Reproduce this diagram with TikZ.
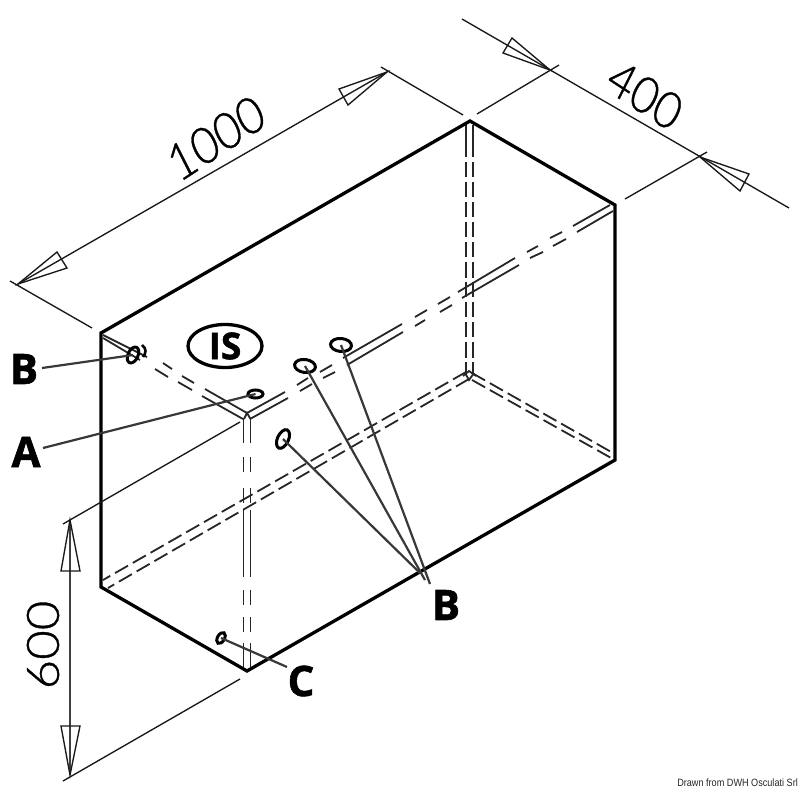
\documentclass[tikz,border=0pt]{standalone}
\usepackage{fontspec}
\setmainfont{Open Sans}
\newfontfamily\dimfont{Lato Light}[FakeBold=0.7]
\newfontfamily\boldlab{Open Sans}[UprightFont=* Bold,FakeBold=1.4]
\newfontfamily\creditfont{Liberation Sans}
\usetikzlibrary{shapes.geometric}
\tikzset{
  thickedge/.style={line width=3.3pt,line join=miter,black},
  thinline/.style={line width=1.35pt,black!90},
  hiddenline/.style={line width=1.8pt,black!85},
  hiddendash/.style={line width=1.8pt,black!85,dash pattern=on 15pt off 5.5pt},
  leader/.style={line width=2.2pt,black!78},
  arrowopen/.style={line width=1.35pt,black!90,line join=miter},
  hole/.style={ellipse,draw=black,line width=3pt,inner sep=0pt,outer sep=0pt},
  lab/.style={font=\boldlab\fontsize{42}{42}\selectfont,inner sep=0pt,black},
  dimtext/.style={font=\dimfont\fontsize{51}{51}\selectfont,inner sep=0pt,xscale=.88,transform shape,black}
}
\begin{document}
\begin{tikzpicture}[x=1pt,y=-1pt]
\useasboundingbox (0,0) rectangle (800,800);
\fill[white] (0,0) rectangle (800,800);

% box corners
\coordinate (tl) at (101,333);
\coordinate (tb) at (470,121);
\coordinate (tr) at (615,205);
\coordinate (br) at (615,460);
\coordinate (bf) at (247,671);
\coordinate (bl) at (101,587);

% hidden edges: top left-front edge
\foreach \xa/\ya/\xb/\yb in {
  103/335/147/357, 163/363/172/369, 182/376/194/383, 205/389/247/413,
  103/338/140/360, 155/369/168/377, 178/382/192/390, 202/396/243/419,
  % top long edge
  247/413/285/392, 297/385/308/378, 320/372/332/365, 343/358/402/324,
  415/317/427/310, 438/304/450/297, 458/292/515/258, 527/252/538/246,
  550/238/562/232, 573/226/610/205,
  250/419/288/398, 300/391/312/384, 323/378/335/372, 347/365/403/332,
  415/326/425/320, 440/312/452/305, 462/298/519/265, 530/258/543/252,
  553/246/566/239, 577/232/613/211,
  % front vertical
  243.5/419/243.5/443, 243.5/457/243.5/472, 243.5/488/243.5/503, 243.5/510/243.5/577,
  243.5/590/243.5/605, 243.5/617/243.5/632, 243.5/643/243.5/670,
  250.5/419/250.5/443, 250.5/457/250.5/472, 250.5/488/250.5/503, 250.5/510/250.5/577,
  250.5/590/250.5/605, 250.5/617/250.5/632, 250.5/643/250.5/668,
  % back vertical
  466/125/466/157, 466/162/466/177, 466/182/466/197, 466/202/466/217, 466/222/466/237,
  466/242/466/257, 466/262/466/278, 466/282/466/297, 466/302/466/317, 466/322/466/337,
  466/342/466/358, 466/362/466/374,
  473/125/473/157, 473/162/473/177, 473/182/473/197, 473/202/473/217, 473/222/473/237,
  473/242/473/257, 473/262/473/278, 473/282/473/297, 473/302/473/317, 473/322/473/337,
  473/342/473/358, 473/362/473/374
} \draw[hiddenline] (\xa,\ya) -- (\xb,\yb);

% hidden bottom edges
\draw[hiddendash] (466,372) -- (103,580);
\draw[hiddendash] (469,379) -- (108,588);
\draw[hiddendash] (472,373) -- (613,453);
\draw[hiddendash] (472,380) -- (613,459);

% small corner marks
\draw[hiddenline] (244,419) -- (247,413) -- (250.5,419);
\draw[hiddenline] (465,373) -- (469,380) -- (474,373);
\draw[hiddenline] (463,376) -- (469,371) -- (476,376);

% outline
\draw[thickedge] (tl) -- (tb) -- (tr) -- (br) -- (bf) -- (bl) -- cycle;

% dimension 1000
\coordinate (kA) at (18,284);
\coordinate (kB) at (387,72);
\draw[thinline] (kA) -- (kB);
\draw[arrowopen] (kA) -- (57,252) -- (67,268) -- cycle;
\draw[arrowopen] (kB) -- (339,89) -- (348,105) -- cycle;
\draw[thinline] (10,281) -- (92,328);
\draw[thinline] (381,67) -- (463,115);
\node[dimtext,rotate=30] (dim1000) at (216,138) {1000};

% dimension 400
\coordinate (fA) at (550,70);
\coordinate (fB) at (700,157);
\coordinate (fC) at (462,19);
\coordinate (fD) at (789,208);
\draw[thinline] (fC) -- (fD);
\draw[arrowopen] (fA) -- (512,38) -- (503,53) -- cycle;
\draw[arrowopen] (fB) -- (749,174) -- (740,191) -- cycle;
\draw[thinline] (477,114) -- (559,65);
\draw[thinline] (625,199) -- (707,152);
\node[dimtext,rotate=-30] (dim400) at (645,95) {400};

% dimension 600
\coordinate (sA) at (70,520);
\coordinate (sB) at (70,775);
\draw[thinline,black!75] (sA) -- (sB);
\draw[arrowopen] (sA) -- (61,571) -- (80,571) -- cycle;
\draw[arrowopen] (sB) -- (61,726) -- (80,726) -- cycle;
\draw[thinline] (63,524) -- (240,422);
\draw[thinline] (63,781) -- (240,679);
\node[dimtext,rotate=90] (dim600) at (43,645) {600};

% IS mark
\node[ellipse,draw=black,line width=3.3pt,minimum width=74pt,minimum height=43pt,inner sep=0pt,
      font=\boldlab\fontsize{37}{37}\selectfont] (ismark) at (225,346) {IS};

% holes
\node[hole,minimum width=17pt,minimum height=10pt,rotate=65] (holeBa) at (133,355) {};
\draw[line width=2.6pt,black] (142,345) .. controls (147,349) and (146,353) .. (143,357);
\node[hole,minimum width=15pt,minimum height=8pt] (holeA) at (255.5,394) {};
\node[hole,minimum width=21pt,minimum height=13pt,rotate=-8] (holeBb) at (305,366) {};
\node[hole,minimum width=21pt,minimum height=13pt,rotate=-5] (holeBc) at (341,345) {};
\node[hole,minimum width=20pt,minimum height=11pt,rotate=65] (holeBd) at (283,439) {};
\node[hole,minimum width=12pt,minimum height=7pt,rotate=60] (holeC) at (221,638) {};

% labels
\node[lab] (labBa) at (24,369) {B};
\node[lab] (labA) at (26,452) {A};
\node[lab] (labC) at (301,681) {C};
\node[lab] (labBb) at (446,605) {B};

% leaders
\coordinate (lBa) at (42,368);
\coordinate (lA) at (43,448);
\coordinate (lC) at (287,667);
\coordinate (lBd) at (420,573);
\coordinate (lBb) at (425,580);
\coordinate (lBc) at (430,584);
\draw[leader] (lBa) -- (holeBa.center);
\draw[leader] (lA) -- (holeA.center);
\draw[leader] (lC) -- (holeC.center);
\draw[leader] (lBd) -- (holeBd.center);
\draw[leader] (lBb) -- (holeBb.center);
\draw[leader] (lBc) -- (holeBc.center);

% credit
\node[font=\creditfont\fontsize{10.6}{12}\selectfont,anchor=east,inner sep=0pt,black!85,xscale=.86,transform shape] (credit) at (798,783) {Drawn from DWH Osculati Srl};
\end{tikzpicture}
\end{document}
